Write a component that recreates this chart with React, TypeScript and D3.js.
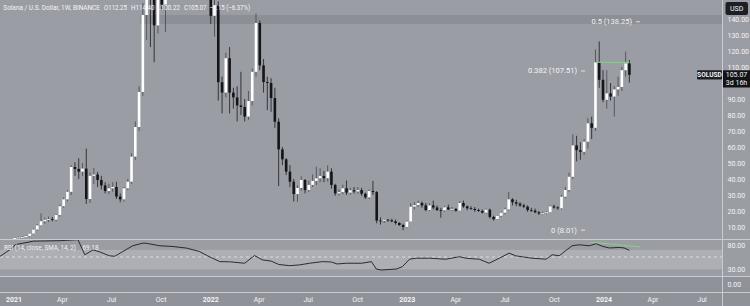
import React from "react";
import * as d3 from "d3";

// ---- weekly OHLC, SOL/USD (Binance), weeks starting Mon 4 Jan 2021 ----
const firstWeek = new Date(2021, 0, 4);
const opens = [2.0,3.1,3.4,3.6,4.4,5.9,8.4,11.0,13.6,14.5,14.9,14.6,17.5,23.0,27.3,32.0,47.5,46.3,44.6,46.5,27.5,42.0,42.8,39.4,36.0,32.5,34.2,35.0,29.0,27.3,34.2,38.3,54.0,72.5,94.4,142.5,180.0,156.0,136.0,165.0,149.0,160.0,195.0,200.0,250.0,230.0,215.0,200.0,190.0,175.0,180.0,195.0,170.0,142.0,148.5,100.5,94.0,115.5,94.0,91.0,86.0,85.0,79.0,88.7,107.0,137.5,111.0,100.6,100.0,90.6,75.8,58.5,52.3,44.6,38.3,30.6,34.4,39.4,33.1,36.3,38.8,40.4,41.9,40.5,44.6,36.3,31.0,31.8,34.2,31.5,33.0,32.2,33.1,30.8,28.5,32.5,31.8,14.0,13.9,14.6,14.2,13.5,12.5,11.2,10.0,13.4,22.7,23.7,25.0,23.5,20.6,23.5,22.2,20.6,20.4,22.3,21.0,21.3,20.2,25.0,22.9,21.7,21.3,20.6,20.0,19.0,20.8,16.3,14.9,17.0,18.9,21.0,27.3,25.5,24.6,23.5,22.7,20.6,20.2,19.2,18.5,18.6,19.2,22.9,22.2,21.7,28.9,33.1,41.4,61.0,58.0,57.0,63.3,74.8,72.0,112.9,102.0,89.5,93.5,91.5,96.0,97.5,108.0,112.25];
const highs = [3.3,4.0,4.1,5.0,6.3,9.0,11.8,18.5,15.8,16.5,16.2,18.0,24.0,28.5,33.0,48.5,50.5,53.0,50.0,59.0,44.0,47.0,44.5,42.0,38.0,37.0,38.0,38.3,31.0,35.0,40.0,56.0,76.0,98.0,150.0,216.0,190.0,160.0,172.0,175.0,165.0,200.0,218.0,259.0,260.0,240.0,225.0,240.0,200.0,185.0,205.0,204.0,176.0,152.0,151.0,104.0,119.0,122.5,97.0,98.0,107.0,90.0,95.0,109.0,143.5,139.0,115.0,104.0,103.0,97.0,78.0,60.0,53.0,48.7,40.0,36.0,41.7,40.0,39.0,42.9,47.7,46.7,45.0,48.5,46.7,37.0,33.5,36.5,39.0,34.5,35.0,35.0,34.5,31.5,33.5,38.8,32.5,16.0,15.0,15.0,15.2,14.6,13.0,12.0,14.0,24.9,25.5,26.5,26.0,25.0,24.8,26.5,23.5,22.0,23.0,24.0,22.5,21.8,26.0,26.5,23.5,23.0,22.5,21.5,21.0,21.5,21.5,17.0,17.5,19.5,22.0,32.0,28.0,27.0,25.5,24.5,23.5,22.0,21.5,20.0,19.5,20.0,23.5,24.0,23.0,30.0,35.0,44.0,68.0,67.0,63.0,65.0,78.0,79.0,121.0,126.0,108.0,108.0,100.0,98.0,104.0,110.0,119.6,114.4];
const lows = [1.7,2.6,2.9,3.3,4.0,5.5,7.7,10.5,12.0,13.0,13.5,13.5,16.5,22.0,26.0,30.0,42.0,40.0,42.0,24.5,25.0,37.0,35.0,33.5,31.0,30.5,32.0,27.5,25.5,26.0,33.0,37.0,52.0,70.0,92.0,127.0,122.5,113.0,131.0,146.0,132.0,155.0,185.0,195.0,225.0,195.0,185.0,165.0,155.0,157.0,172.0,165.0,137.0,129.0,89.0,81.0,91.0,81.0,84.0,76.0,80.0,76.0,77.0,86.0,104.0,108.0,94.0,83.0,82.0,72.0,35.6,48.7,42.5,35.0,26.0,25.8,32.8,31.0,32.0,35.0,36.3,38.0,38.0,38.5,34.0,29.5,29.5,30.5,30.0,30.0,31.0,31.0,29.5,27.5,27.5,30.0,12.3,11.5,12.5,13.2,13.0,11.5,10.8,8.0,9.6,13.2,21.0,22.5,22.0,19.8,20.0,21.0,20.0,15.8,19.5,20.5,20.0,19.5,19.8,22.0,20.5,20.8,19.5,19.5,18.5,18.5,15.3,14.0,14.5,16.3,18.0,20.3,23.5,23.0,22.5,21.8,19.5,19.5,18.6,17.5,17.8,18.0,18.8,21.5,20.8,21.0,28.0,32.0,40.0,51.0,52.0,55.0,59.0,65.0,70.0,97.0,88.0,84.0,89.0,79.0,92.0,95.0,104.0,100.22];
const closes = [3.1,3.4,3.6,4.4,5.9,8.4,11.0,13.6,14.5,14.9,14.6,17.5,23.0,27.3,32.0,47.5,46.3,44.6,46.5,27.5,42.0,42.8,39.4,36.0,32.5,34.2,35.0,29.0,27.3,34.2,38.3,54.0,72.5,94.4,142.5,180.0,156.0,136.0,165.0,149.0,160.0,195.0,200.0,250.0,230.0,215.0,200.0,190.0,175.0,180.0,195.0,170.0,142.0,148.5,100.5,94.0,115.5,94.0,91.0,86.0,85.0,79.0,88.7,107.0,137.5,111.0,100.6,100.0,90.6,75.8,58.5,52.3,44.6,38.3,30.6,34.4,39.4,33.1,36.3,38.8,40.4,41.9,40.5,44.6,36.3,31.0,31.8,34.2,31.5,33.0,32.2,33.1,30.8,28.5,32.5,31.8,14.0,13.9,14.6,14.2,13.5,12.5,11.2,10.0,13.4,22.7,23.7,25.0,23.5,20.6,23.5,22.2,20.6,20.4,22.3,21.0,21.3,20.2,25.0,22.9,21.7,21.3,20.6,20.0,19.0,20.8,16.3,14.9,17.0,18.9,21.0,27.3,25.5,24.6,23.5,22.7,20.6,20.2,19.2,18.5,18.6,19.2,22.9,22.2,21.7,28.9,33.1,41.4,61.0,58.0,57.0,63.3,74.8,72.0,112.9,102.0,89.5,93.5,91.5,96.0,97.5,108.0,112.25,105.07];

// ---- RSI(14) readings: week offset from first week, value ----
const rsiWeeks = [-4,-0.4,0.1,5,12,16.8,18.6,20.8,22.5,25.2,26.6,28.7,31.3,34,35,38.5,42,45.6,49,51.2,54.4,57,61,63.6,65.7,68,70,72.9,75.5,78.2,81.6,84,85.5,88,92,94.6,95.9,97.2,101.2,102.8,104.7,106.5,110,114.4,117.9,120,123.2,125.8,128.5,131.1,132.9,137.2,140.9,142.5,144.4,146.2,147.8,149.7,152.3,154.2,155.8,157.7,160.3,161.6,163];
const rsiValues = [56,75,80.6,88,89,91,60,70,66,57.7,57,66.7,78.5,84,83.5,78.5,77,73.7,66.7,57.7,45.8,45.5,42.5,58.3,49.4,47,40,37.5,39,42.5,45.8,45,41,42.5,42.5,45.8,30.6,28.5,30.6,35.4,50.8,52.9,52.9,50.8,56,52.5,50.8,42.5,52.9,63.3,57.7,52.9,50.8,60,58,69,78.5,80.6,78.5,82.7,77.5,74,75,74,69.18];
const rsiTrendWeeks = [152.8, 166];
const rsiTrendValues = [86, 76];

// ---- annotations ----
const fibRatios = ["0.5", "0.382", "0"];
const fibPrices = [138.25, 107.51, 8.01];
const resistanceWeeks = [154, 163];
const resistancePrice = 112.9;
const priceTicks = [10, 20, 30, 40, 50, 60, 70, 80, 90, 110, 120, 130, 140];
const rsiTickLabels = ["80.00", "30.00"];
const lowerPaneLabel = "0.00";
const lastPrice = 105.07;
const symbol = "SOLUSD";
const countdown = "3d 16h";
const headerParts = ["Solana / U.S. Dollar, 1W, BINANCE", "O112.25", "H114.40", "L100.22", "C105.07", "\u22127.15 (\u22126.37%)"];

const BG = "#9b9da4";
const LINE = "#c9cbd0";
const TXT = "#f4f4f6";
const FONT = "Roboto, 'DejaVu Sans', sans-serif";

const weekDate = (w: number) => new Date(firstWeek.getTime() + w * 7 * 864e5);

export default function App() {
  const x = d3.scaleTime().domain([new Date(2021, 0, 1), new Date(2024, 0, 1)]).range([13, 603]);
  const y = d3.scaleLinear().domain([0, 140]).range([243, 19]);
  const yR = d3.scaleLinear().domain([30, 70]).range([269.3, 249.9]);
  const fmt = d3.format(".2f");
  const bw = 2.6;

  const rsiPts = rsiWeeks.map((w, i) => [x(weekDate(w)), yR(rsiValues[i])] as [number, number]);
  const rsiPath = d3.line()(rsiPts) || "";
  const trendPath = d3.line()(rsiTrendWeeks.map((w, i) => [x(weekDate(w)), yR(rsiTrendValues[i])] as [number, number])) || "";

  const timeTicks = d3.timeMonth.every(3)!.range(new Date(2021, 0, 1), new Date(2024, 7, 1));

  // header piece positions [x0, x1]
  const headerX = [[3.3, 100], [104, 127], [131, 154.5], [157.5, 180], [184, 206.5], [209.5, 250]];
  const fibEnds = [632, 577, 577];

  return (
    <svg width={750} height={306} style={{ position: "absolute", left: 0, top: 0 }} fontFamily={FONT}>
      <defs>
        <clipPath id="pricePane"><rect x={0} y={0} width={722} height={239} /></clipPath>
        <clipPath id="rsiPane"><rect x={0} y={239.5} width={722} height={36.5} /></clipPath>
      </defs>
      <rect x={0} y={0} width={750} height={306} fill={BG} />
      {/* fib 0.5 zone */}
      <rect x={140} y={15} width={582} height={9} fill="#8d8f96" />
      {/* RSI band */}
      <rect x={0} y={yR(70)} width={722} height={yR(30) - yR(70)} fill="#adafb5" />
      <line x1={0} x2={722} y1={257} y2={257} stroke="#e6e7ea" strokeDasharray="3,3" strokeWidth={0.8} />
      {/* lower panes */}
      <rect x={0} y={276} width={750} height={30} fill="#90929a" />

      {/* candles */}
      <g clipPath="url(#pricePane)">
        {opens.map((o, i) => {
          const c = closes[i];
          const cx = x(weekDate(i));
          const up = c >= o;
          const top = y(Math.max(o, c));
          const h = Math.max(Math.abs(y(o) - y(c)), 0.8);
          return (
            <g key={i}>
              <line x1={cx} x2={cx} y1={y(highs[i])} y2={y(lows[i])} stroke={up ? "#44464d" : "#1a1b1f"} strokeWidth={0.8} />
              <rect x={cx - bw / 2} y={top} width={bw} height={h} fill={up ? "#ffffff" : "#141519"} />
            </g>
          );
        })}
        <line x1={x(weekDate(resistanceWeeks[0]))} x2={x(weekDate(resistanceWeeks[1]))} y1={y(resistancePrice)} y2={y(resistancePrice)} stroke="#7fd67a" strokeWidth={1} />
      </g>

      {/* fib labels */}
      {fibRatios.map((r, i) => (
        <g key={r}>
          <text x={fibEnds[i]} y={y(fibPrices[i]) + 2.5} fontSize={7.5} fill={TXT} textAnchor="end">{`${r} (${fmt(fibPrices[i])})`}</text>
          <line x1={fibEnds[i] + 4} x2={fibEnds[i] + 8} y1={y(fibPrices[i])} y2={y(fibPrices[i])} stroke={TXT} strokeWidth={0.8} />
        </g>
      ))}

      {/* RSI */}
      <g clipPath="url(#rsiPane)">
        <path d={rsiPath} fill="none" stroke="#1c1d21" strokeWidth={0.9} />
      </g>
      <path d={trendPath} fill="none" stroke="#7fd67a" strokeWidth={1} />
      <text x={4} y={250} fontSize={7} fill={TXT} textLength={72} lengthAdjust="spacingAndGlyphs">RSI (14, close, SMA, 14, 2)</text>
      <text x={82.5} y={250} fontSize={7} fill={TXT} textLength={16} lengthAdjust="spacingAndGlyphs">{fmt(rsiValues[rsiValues.length - 1])}</text>

      {/* separators */}
      <line x1={0} x2={750} y1={239.5} y2={239.5} stroke={LINE} />
      <line x1={0} x2={750} y1={276.5} y2={276.5} stroke={LINE} />
      <line x1={0} x2={750} y1={292.5} y2={292.5} stroke={LINE} />
      <line x1={722.5} x2={722.5} y1={0} y2={306} stroke={LINE} />

      {/* price axis */}
      {priceTicks.map((t) => (
        <text key={t} x={727.5} y={y(t) + 2.5} fontSize={7} fill={TXT}>{fmt(t)}</text>
      ))}
      <text x={727.5} y={248} fontSize={7} fill={TXT}>{rsiTickLabels[0]}</text>
      <text x={727.5} y={271.8} fontSize={7} fill={TXT}>{rsiTickLabels[1]}</text>
      <text x={727.5} y={286.5} fontSize={7} fill={TXT}>{lowerPaneLabel}</text>

      {/* USD box */}
      <rect x={725.5} y={2} width={22.5} height={13} rx={2} fill="#1d1f24" />
      <text x={736.7} y={11} fontSize={7} fill={TXT} textAnchor="middle">USD</text>

      {/* last price */}
      <rect x={697} y={y(lastPrice) - 4.6} width={25} height={9.2} rx={1} fill="#1d1f24" />
      <text x={709.5} y={y(lastPrice) + 2.3} fontSize={6.6} fill={TXT} textAnchor="middle" fontWeight="bold">{symbol}</text>
      <rect x={723} y={y(lastPrice) - 4.6} width={27} height={17.2} fill="#131418" />
      <text x={736.5} y={y(lastPrice) + 2.4} fontSize={7} fill={TXT} textAnchor="middle">{fmt(lastPrice)}</text>
      <text x={736.5} y={y(lastPrice) + 10.6} fontSize={7} fill={TXT} textAnchor="middle">{countdown}</text>

      {/* time axis */}
      {timeTicks.map((d, i) => {
        const isYear = d.getMonth() === 0;
        return (
          <text key={i} x={x(d) + 1} y={302} fontSize={7} fill={TXT} textAnchor="middle" fontWeight={isYear ? "bold" : "normal"}>
            {isYear ? d3.timeFormat("%Y")(d) : d3.timeFormat("%b")(d)}
          </text>
        );
      })}

      {/* header */}
      {headerParts.map((s, i) => (
        <text key={i} x={headerX[i][0]} y={9.6} fontSize={7.6} fill={TXT} textLength={headerX[i][1] - headerX[i][0]} lengthAdjust="spacingAndGlyphs">{s}</text>
      ))}
    </svg>
  );
}
